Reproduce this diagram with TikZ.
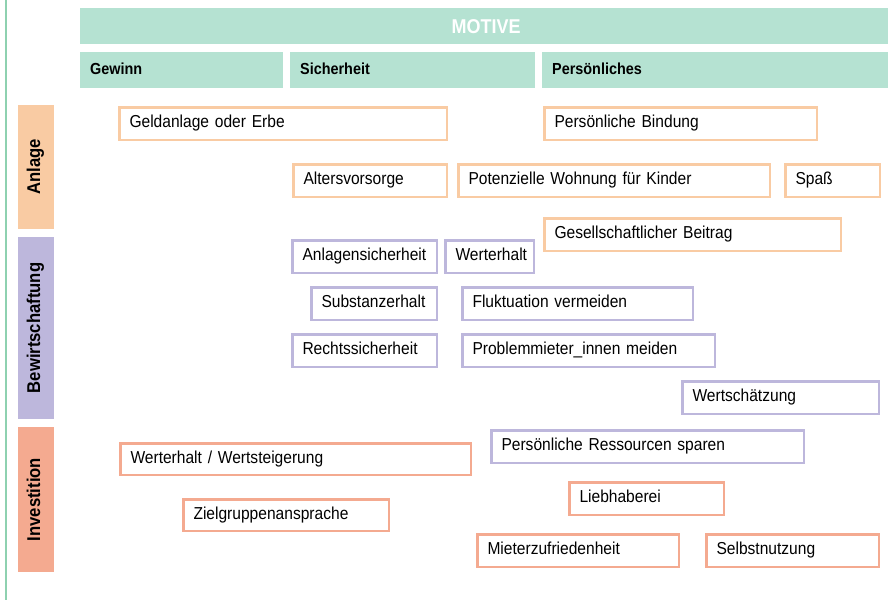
\documentclass[tikz,border=0pt]{standalone}
\usepackage{fontspec}
\setmainfont{Liberation Sans}[FakeStretch=0.9]
\definecolor{hdr}{HTML}{B5E2D2}
\definecolor{lline}{HTML}{8ED1B0}
\definecolor{peach}{HTML}{F9CBA3}
\definecolor{lav}{HTML}{BDB7DC}
\definecolor{salm}{HTML}{F4AA90}
\tikzset{
  obx/.style={draw=#1, line width=2.5pt, inner xsep=10pt, inner ysep=0pt, align=left,
    text height=12pt, text depth=4pt, font=\fontsize{17.3}{20}\selectfont, anchor=north west},
  hdrbox/.style={fill=hdr, inner xsep=10pt, inner ysep=0pt, align=left, anchor=north west,
    text height=12pt, text depth=4pt, font=\fontsize{16}{19}\selectfont\bfseries},
  rowbar/.style={fill=#1, rotate=90, inner sep=0pt, text height=12pt, text depth=4pt,
    font=\fontsize{18.5}{21}\selectfont\bfseries},
}
\newcommand\obox[7]{%
  \pgfmathsetmacro\bw{#5-#3-2.5}\pgfmathsetmacro\bh{#6-#4-2.5}\pgfmathsetmacro\tw{#5-#3-22.5}%
  \node[obx=#2, minimum width=\bw pt, minimum height=\bh pt, text width=\tw pt] (#1) at (#3+1.25,#4+1.25) {#7};}
\begin{document}
\begin{tikzpicture}[x=1pt,y=-1pt]
\useasboundingbox (0,0) rectangle (888,600);
% left line
\draw[lline, line width=2.5pt] (6,0) -- (6,600);
% header
\node[fill=hdr, anchor=north west, minimum width=808pt, minimum height=36pt, inner sep=0pt,
  text=white, font=\fontsize{20}{24}\selectfont\bfseries, text height=14.5pt, text depth=0pt] (motive) at (80,8) {\hspace*{4pt}MOTIVE};
\node[hdrbox, minimum width=203pt, minimum height=36pt, text width=183pt] (gewinn) at (80,52) {Gewinn};
\node[hdrbox, minimum width=245pt, minimum height=36pt, text width=225pt] (sicher) at (290,52) {Sicherheit};
\node[hdrbox, minimum width=346pt, minimum height=36pt, text width=326pt] (persoenl) at (542,52) {Persönliches};
% row bars
\node[rowbar=peach, minimum width=124pt, minimum height=36pt] (anlage) at (36,167) {Anlage};
\node[rowbar=lav, minimum width=182pt, minimum height=36pt] (bewirt) at (36,328) {Bewirtschaftung};
\node[rowbar=salm, minimum width=145pt, minimum height=36pt] (invest) at (36,499.5) {Investition};
% Anlage boxes
\obox{geld}{peach}{117}{105}{447}{140}{Geldanlage oder Erbe}
\obox{bindung}{peach}{542}{105}{817}{140}{Persönliche Bindung}
\obox{alter}{peach}{291}{162}{447}{197}{Altersvorsorge}
\obox{kinder}{peach}{456}{162}{770}{197}{Potenzielle Wohnung für Kinder}
\obox{spass}{peach}{783}{162}{880}{197}{Spaß}
\obox{gesell}{peach}{542}{216}{841}{251}{Gesellschaftlicher Beitrag}
% Bewirtschaftung boxes
\obox{anlsich}{lav}{290}{238}{437}{273}{Anlagensicherheit}
\obox{werth}{lav}{443}{238}{534}{273}{Werterhalt}
\obox{subst}{lav}{309}{285}{437}{320}{Substanzerhalt}
\obox{flukt}{lav}{460}{285}{693}{320}{Fluktuation vermeiden}
\obox{recht}{lav}{290}{332}{437}{367}{Rechtssicherheit}
\obox{problem}{lav}{460}{332}{715}{367}{Problemmieter\_innen meiden}
\obox{wertsch}{lav}{680}{379}{879}{414}{Wertschätzung}
\obox{ressour}{lav}{489}{428}{804}{463}{Persönliche Ressourcen sparen}
% Investition boxes
\obox{wertst}{salm}{118}{441}{471}{475}{Werterhalt / Wertsteigerung}
\obox{ziel}{salm}{181}{497}{389}{531}{Zielgruppenansprache}
\obox{lieb}{salm}{567}{480}{724}{515}{Liebhaberei}
\obox{mieter}{salm}{475}{532}{679}{567}{Mieterzufriedenheit}
\obox{selbst}{salm}{704}{532}{879}{567}{Selbstnutzung}
\end{tikzpicture}
\end{document}
